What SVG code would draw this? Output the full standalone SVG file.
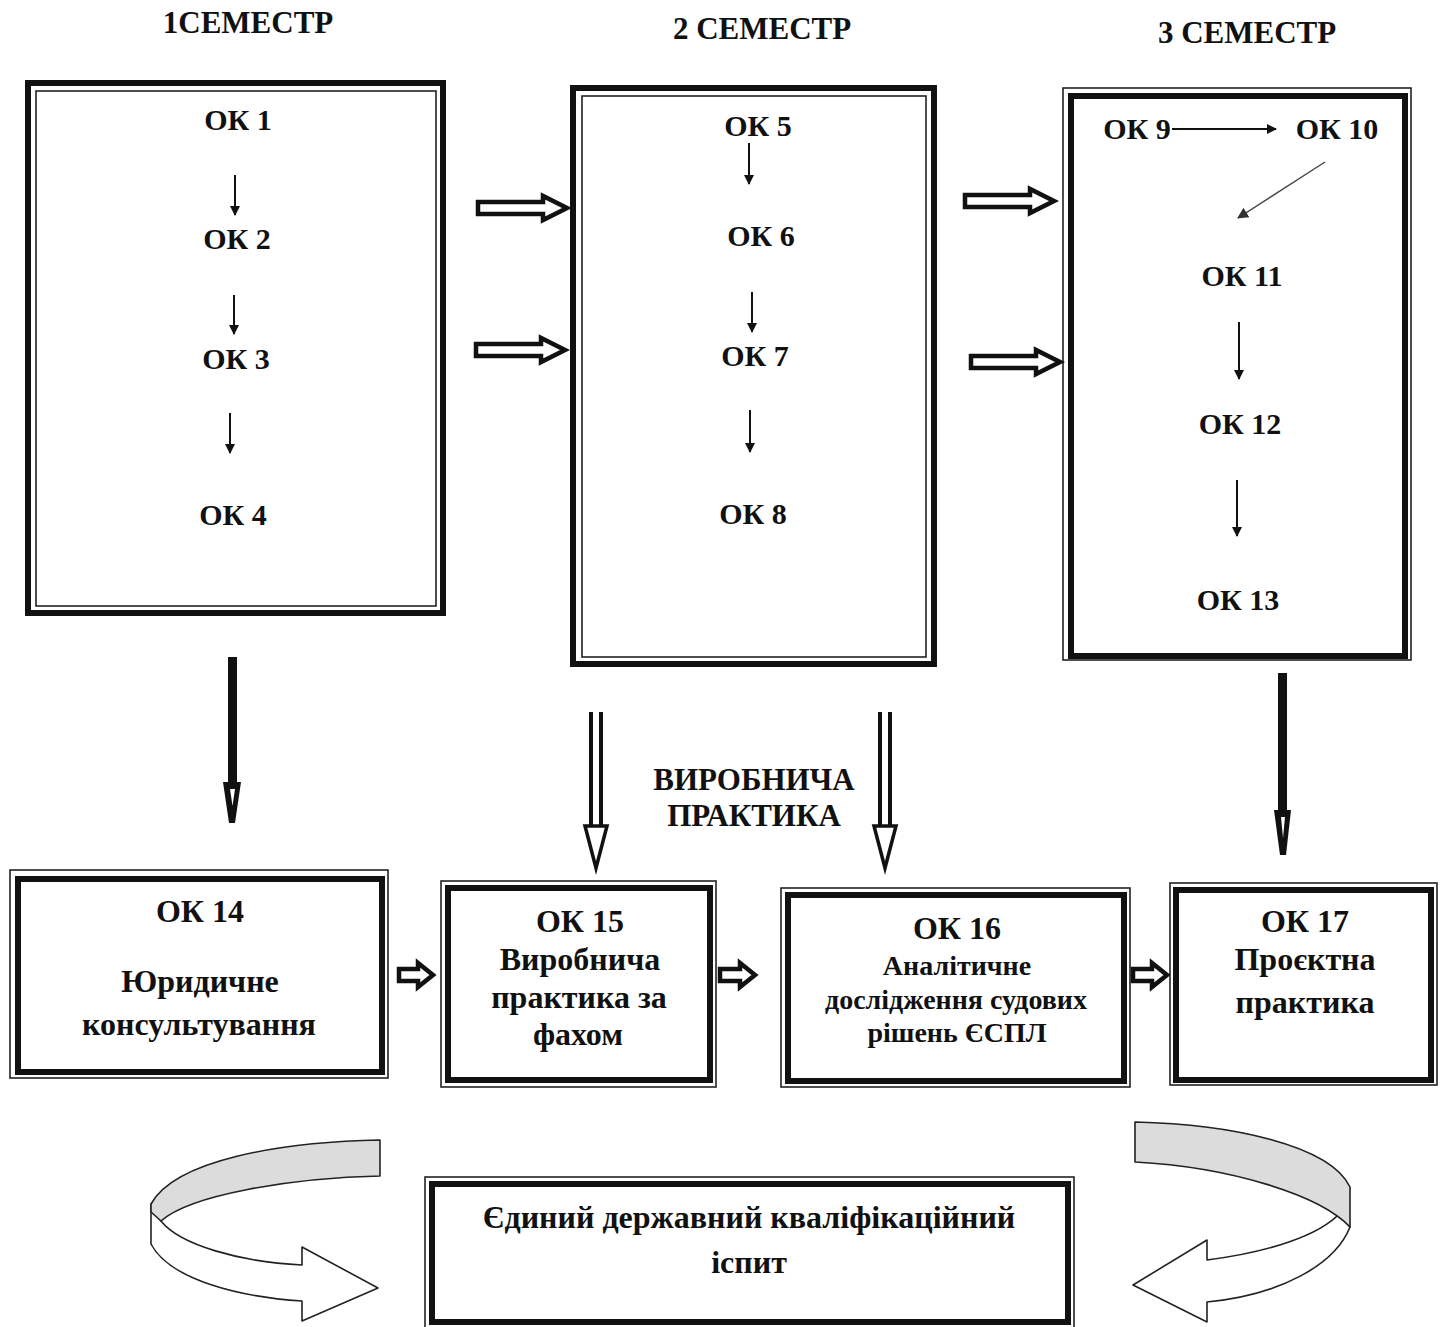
<svg xmlns="http://www.w3.org/2000/svg" width="1445" height="1327" viewBox="0 0 1445 1327">
<defs>
<style>
text{font-family:"Liberation Serif","Times New Roman",serif;font-weight:bold;fill:#111;text-anchor:middle}
.h{font-size:31px}
.t{font-size:30px}
.b{font-size:32px}
.s{font-size:28px}
.thick{fill:none;stroke:#111;stroke-width:6}
.thin{fill:none;stroke:#222;stroke-width:1.6}
.blk{fill:#fff;stroke:#111;stroke-width:4.5;stroke-linejoin:miter}
.sm{stroke:#111;stroke-width:2;fill:none}
.dbl{stroke:#111;stroke-width:4;fill:none}
.rib{stroke:#222;stroke-width:1.6;stroke-linejoin:round}
</style>
<marker id="ah" viewBox="0 0 10 10" refX="9" refY="5" markerWidth="5" markerHeight="5" orient="auto" markerUnits="strokeWidth">
<path d="M0,0 L10,5 L0,10 Z" fill="#111"/>
</marker>
<marker id="ah2" viewBox="0 0 10 10" refX="9" refY="5" markerWidth="8" markerHeight="8" orient="auto" markerUnits="strokeWidth">
<path d="M0,0 L10,5 L0,10 Z" fill="#333"/>
</marker>
</defs>
<rect width="1445" height="1327" fill="#fff"/>

<g id="headers">
<text class="h" x="248" y="33">1СЕМЕСТР</text>
<text class="h" x="762" y="39">2 СЕМЕСТР</text>
<text class="h" x="1247" y="43">3 СЕМЕСТР</text>
<text class="h" x="754" y="790">ВИРОБНИЧА</text>
<text class="h" x="754" y="826">ПРАКТИКА</text>
</g>

<g id="semester1">
<rect class="thick" x="28" y="83" width="415" height="530"/>
<rect class="thin" x="36" y="91" width="400" height="515"/>
<text class="t" x="238" y="130">ОК 1</text>
<text class="t" x="237" y="249">ОК 2</text>
<text class="t" x="236" y="369">ОК 3</text>
<text class="t" x="233" y="525">ОК 4</text>
</g>

<g id="semester2">
<rect class="thick" x="573" y="88" width="361" height="576"/>
<rect class="thin" x="582" y="96" width="344" height="561"/>
<text class="t" x="758" y="136">ОК 5</text>
<text class="t" x="761" y="246">ОК 6</text>
<text class="t" x="755" y="366">ОК 7</text>
<text class="t" x="753" y="524">ОК 8</text>
</g>

<g id="semester3">
<rect class="thin" x="1063" y="88" width="348" height="572"/>
<rect class="thick" x="1071" y="96" width="334" height="560"/>
<text class="t" x="1137" y="139">ОК 9</text>
<text class="t" x="1337" y="139">ОК 10</text>
<text class="t" x="1242" y="286">ОК 11</text>
<text class="t" x="1240" y="434">ОК 12</text>
<text class="t" x="1238" y="610">ОК 13</text>
</g>

<g id="ok14">
<rect class="thin" x="10" y="870" width="378" height="208"/>
<rect class="thick" x="18" y="879" width="364" height="193"/>
<text class="b" x="200" y="922">ОК 14</text>
<text class="b" x="200" y="992">Юридичне</text>
<text class="b" x="199" y="1035">консультування</text>
</g>

<g id="ok15">
<rect class="thin" x="441" y="881" width="275" height="206"/>
<rect class="thick" x="448" y="888" width="262" height="192"/>
<text class="b" x="580" y="932">ОК 15</text>
<text class="b" x="580" y="970">Виробнича</text>
<text class="b" x="579" y="1008">практика за</text>
<text class="b" x="578" y="1045">фахом</text>
</g>

<g id="ok16">
<rect class="thin" x="781" y="888" width="349" height="199"/>
<rect class="thick" x="788" y="895" width="336" height="186"/>
<text class="b" x="957" y="939">ОК 16</text>
<text class="s" x="957" y="975">Аналітичне</text>
<text class="s" x="956" y="1009">дослідження судових</text>
<text class="s" x="957" y="1042">рішень ЄСПЛ</text>
</g>

<g id="ok17">
<rect class="thin" x="1170" y="883" width="267" height="202"/>
<rect class="thick" x="1176" y="890" width="255" height="190"/>
<text class="b" x="1305" y="932">ОК 17</text>
<text class="b" x="1305" y="970">Проєктна</text>
<text class="b" x="1305" y="1013">практика</text>
</g>

<g id="exam">
<rect class="thin" x="425" y="1177" width="649" height="152"/>
<rect class="thick" x="432" y="1184" width="636" height="138"/>
<text class="b" x="749" y="1228">Єдиний державний кваліфікаційний</text>
<text class="b" x="749" y="1273">іспит</text>
</g>

<g id="connectors">
<!-- small arrows inside boxes -->
<line class="sm" x1="235" y1="175" x2="235" y2="215" marker-end="url(#ah)"/>
<line class="sm" x1="234" y1="295" x2="234" y2="334" marker-end="url(#ah)"/>
<line class="sm" x1="230" y1="413" x2="230" y2="453" marker-end="url(#ah)"/>
<line class="sm" x1="749" y1="143" x2="749" y2="184" marker-end="url(#ah)"/>
<line class="sm" x1="752" y1="292" x2="752" y2="332" marker-end="url(#ah)"/>
<line class="sm" x1="750" y1="410" x2="750" y2="452" marker-end="url(#ah)"/>
<line class="sm" x1="1172" y1="129" x2="1276" y2="129" marker-end="url(#ah)"/>
<line x1="1325" y1="162" x2="1238" y2="218" stroke="#444" stroke-width="1.4" marker-end="url(#ah2)"/>
<line class="sm" x1="1239" y1="322" x2="1239" y2="379" marker-end="url(#ah)"/>
<line class="sm" x1="1237" y1="480" x2="1237" y2="536" marker-end="url(#ah)"/>

<!-- hollow block arrows between semesters -->
<path class="blk" d="M478,202 L543,202 L543,196 L567,208 L543,220 L543,214 L478,214 Z"/>
<path class="blk" d="M476,344 L541,344 L541,338 L565,350 L541,362 L541,356 L476,356 Z"/>
<path class="blk" d="M965,195 L1030,195 L1030,189 L1054,201 L1030,213 L1030,207 L965,207 Z"/>
<path class="blk" d="M971,356 L1036,356 L1036,350 L1060,362 L1036,374 L1036,368 L971,368 Z"/>

<!-- thick vertical arrows -->
<rect x="228" y="657" width="9" height="126" fill="#111"/>
<path d="M223,782 L241,782 L235,823 L229,823 Z" fill="#111"/>
<path d="M230,789 L235,789 L232.5,806 Z" fill="#fff"/>
<rect x="1278" y="673" width="9" height="138" fill="#111"/>
<path d="M1274,810 L1291,810 L1286,855 L1280,855 Z" fill="#111"/>
<path d="M1281,817 L1285,817 L1283,838 Z" fill="#fff"/>

<!-- double-line arrows -->
<line class="dbl" x1="591" y1="712" x2="591" y2="836"/>
<line class="dbl" x1="601" y1="712" x2="601" y2="836"/>
<path d="M585,826 L607,826 L596,868 Z" fill="#fff" stroke="#111" stroke-width="3.5"/>
<line class="dbl" x1="880" y1="712" x2="880" y2="836"/>
<line class="dbl" x1="890" y1="712" x2="890" y2="836"/>
<path d="M874,826 L896,826 L885,868 Z" fill="#fff" stroke="#111" stroke-width="3.5"/>

<!-- small hollow arrows between bottom boxes -->
<path class="blk" d="M399,969 L418,969 L418,963 L433,975 L418,987 L418,981 L399,981 Z" stroke-width="4"/>
<path class="blk" d="M720,969 L740,969 L740,963 L755,975 L740,987 L740,981 L720,981 Z" stroke-width="4"/>
<path class="blk" d="M1133,969 L1152,969 L1152,963 L1167,975 L1152,987 L1152,981 L1133,981 Z" stroke-width="4"/>

<!-- curved ribbon arrows -->
<g id="curve-left">
<path class="rib" fill="#fff" d="M151,1204 L151,1244 C170,1280 240,1297 302,1301 L302,1321 L378,1288 L302,1247 L302,1265 C240,1262 180,1245 161,1221 Z"/>
<path class="rib" fill="#dcdcdc" d="M380,1140 C280,1142 175,1160 151,1204 L151,1212 L161,1221 C190,1195 290,1178 380,1176 Z"/>
</g>
<g id="curve-right">
<path class="rib" fill="#fff" d="M1340,1213 C1320,1235 1270,1252 1207,1260 L1207,1240 L1133,1285 L1207,1322 L1207,1302 C1280,1295 1335,1265 1350,1227 Z"/>
<path class="rib" fill="#dcdcdc" d="M1135,1122 C1230,1124 1330,1145 1350,1187 L1350,1227 C1320,1195 1230,1167 1135,1162 Z"/>
</g>
</g>
</svg>
